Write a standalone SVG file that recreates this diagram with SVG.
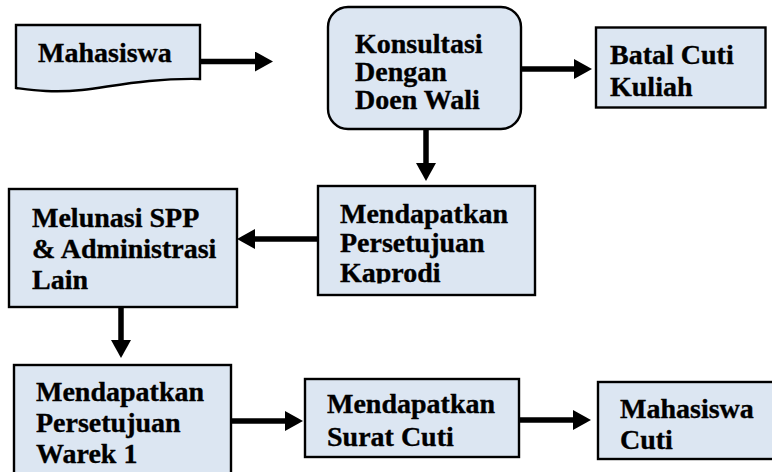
<svg xmlns="http://www.w3.org/2000/svg" width="772" height="472" viewBox="0 0 772 472">
  <style>
    .box { fill: #dce6f2; stroke: #000; stroke-width: 2.4; }
    .lbl { font-family: "Liberation Serif", "Times New Roman", serif; font-weight: bold; font-size: 28px; fill: #000; stroke: #000; stroke-width: 0.35; }
    .conn { fill: none; stroke: #000; stroke-width: 5.5; }
  </style>
  <defs>
    <marker id="head" markerUnits="userSpaceOnUse" markerWidth="18" markerHeight="20" refX="4" refY="10" orient="auto">
      <path d="M0,0 L18,10 L0,20 Z" fill="#000"/>
    </marker>
    <clipPath id="clipKaprodi">
      <rect x="318" y="186" width="217" height="97.5"/>
    </clipPath>
  </defs>

  <rect width="772" height="472" fill="#fff"/>

  <!-- connectors -->
  <g id="connectors">
    <line class="conn" x1="200" y1="61.5" x2="259" y2="61.5" marker-end="url(#head)"/>
    <line class="conn" x1="521" y1="69" x2="578" y2="69" marker-end="url(#head)"/>
    <line class="conn" x1="426" y1="129" x2="426" y2="167" marker-end="url(#head)"/>
    <line class="conn" x1="318" y1="239" x2="251" y2="239" marker-end="url(#head)"/>
    <line class="conn" x1="121" y1="307" x2="121" y2="344" marker-end="url(#head)"/>
    <line class="conn" x1="231" y1="421" x2="289" y2="421" marker-end="url(#head)"/>
    <line class="conn" x1="519" y1="420" x2="577" y2="420" marker-end="url(#head)"/>
  </g>

  <!-- document: Mahasiswa -->
  <g id="mahasiswa">
    <path class="box" d="M16,25 H200 V79 C150,78 115,86 82,90 C52,93 32,90 16,88 Z"/>
    <text class="lbl" x="38" y="62">Mahasiswa</text>
  </g>

  <g id="konsultasi">
    <rect class="box" x="328" y="7" width="193" height="122" rx="20" ry="20"/>
    <text class="lbl" x="355" y="53">Konsultasi</text>
    <text class="lbl" x="355" y="81">Dengan</text>
    <text class="lbl" x="355" y="109">Doen Wali</text>
  </g>

  <g id="batal-cuti">
    <rect class="box" x="596" y="27.5" width="169.5" height="80"/>
    <text class="lbl" x="610" y="63.5">Batal Cuti</text>
    <text class="lbl" x="610" y="95.5">Kuliah</text>
  </g>

  <g id="persetujuan-kaprodi">
    <rect class="box" x="318" y="186" width="217" height="109"/>
    <g clip-path="url(#clipKaprodi)">
      <text class="lbl" x="340" y="222.5">Mendapatkan</text>
      <text class="lbl" x="340" y="252">Persetujuan</text>
      <text class="lbl" x="340" y="281.5">Kaprodi</text>
    </g>
  </g>

  <g id="melunasi-spp">
    <rect class="box" x="9" y="189" width="228" height="118"/>
    <text class="lbl" x="32" y="227">Melunasi SPP</text>
    <text class="lbl" x="32" y="258">&amp; Administrasi</text>
    <text class="lbl" x="32" y="289">Lain</text>
  </g>

  <g id="persetujuan-warek">
    <rect class="box" x="14" y="365" width="217" height="120"/>
    <text class="lbl" x="36" y="401">Mendapatkan</text>
    <text class="lbl" x="36" y="431.5">Persetujuan</text>
    <text class="lbl" x="36" y="462.5">Warek 1</text>
  </g>

  <g id="surat-cuti">
    <rect class="box" x="305" y="379" width="214" height="78"/>
    <text class="lbl" x="327" y="413">Mendapatkan</text>
    <text class="lbl" x="327" y="446">Surat Cuti</text>
  </g>

  <g id="mahasiswa-cuti">
    <rect class="box" x="598" y="382" width="190" height="77"/>
    <text class="lbl" x="620" y="418">Mahasiswa</text>
    <text class="lbl" x="620" y="449">Cuti</text>
  </g>
</svg>
